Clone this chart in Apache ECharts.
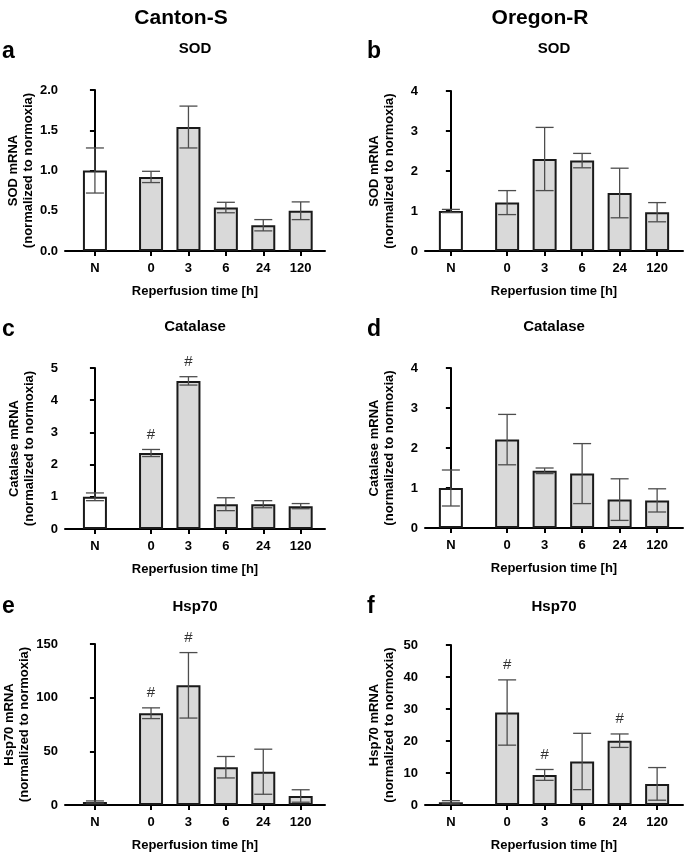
<!DOCTYPE html>
<html><head><meta charset="utf-8">
<script src="https://cdn.jsdelivr.net/npm/echarts@6/dist/echarts.min.js"></script>
<style>html,body{margin:0;padding:0;background:#fff}#c{width:685px;height:853px}</style>
</head><body><div id="c"></div>
<script>
// ---- data ----
const timeLabels = ['N', '0', '3', '6', '24', '120'];
const timePositions = [0, 1.5, 2.5, 3.5, 4.5, 5.5];

const strainTitles = ['Canton-S', 'Oregon-R'];
const panelLetters = ['a', 'b', 'c', 'd', 'e', 'f'];
const geneTitles = ['SOD', 'SOD', 'Catalase', 'Catalase', 'Hsp70', 'Hsp70'];
const yNames = ['SOD mRNA', 'SOD mRNA', 'Catalase mRNA', 'Catalase mRNA', 'Hsp70 mRNA', 'Hsp70 mRNA'];
const xName = 'Reperfusion time [h]';

const sodCantonMean = [1.00, 0.92, 1.54, 0.54, 0.32, 0.50];
const sodCantonErr  = [0.28, 0.07, 0.26, 0.065, 0.07, 0.11];
const sodCantonSig  = [0, 0, 0, 0, 0, 0];

const sodOregonMean = [1.00, 1.21, 2.30, 2.26, 1.45, 0.97];
const sodOregonErr  = [0.04, 0.30, 0.79, 0.18, 0.62, 0.24];
const sodOregonSig  = [0, 0, 0, 0, 0, 0];

const catCantonMean = [1.00, 2.36, 4.60, 0.77, 0.77, 0.71];
const catCantonErr  = [0.12, 0.11, 0.13, 0.20, 0.11, 0.08];
const catCantonSig  = [0, 1, 1, 0, 0, 0];

const catOregonMean = [1.00, 2.21, 1.43, 1.36, 0.71, 0.69];
const catOregonErr  = [0.45, 0.63, 0.07, 0.75, 0.52, 0.29];
const catOregonSig  = [0, 0, 0, 0, 0, 0];

const hspCantonMean = [2.8, 85.5, 111.5, 35.2, 31.0, 8.4];
const hspCantonErr  = [1.0, 5.0, 30.5, 10.0, 21.0, 5.8];
const hspCantonSig  = [0, 1, 1, 0, 0, 0];

const hspOregonMean = [0.85, 28.9, 9.4, 13.6, 20.1, 6.6];
const hspOregonErr  = [0.5, 10.2, 1.7, 8.8, 2.1, 5.1];
const hspOregonSig  = [0, 1, 1, 0, 1, 0];

const yMaxes = [2, 4, 5, 4, 150, 50];
const yIntervals = [0.5, 1, 1, 1, 50, 10];
const yDecimals = [1, 0, 0, 0, 0, 0];

// ---- layout ----
const FONT = "'Liberation Sans', Arial, Helvetica, sans-serif";
const grids = [
  {left: 65, top: 90, width: 260, height: 161},
  {left: 425, top: 91, width: 258, height: 160},
  {left: 65, top: 368, width: 260, height: 161},
  {left: 425, top: 368, width: 258, height: 160},
  {left: 65, top: 644, width: 260, height: 161},
  {left: 425, top: 645, width: 258, height: 160}
];
const xRanges = [[-0.8, 6.15], [-0.69, 6.19]];

const means = [sodCantonMean, sodOregonMean, catCantonMean, catOregonMean, hspCantonMean, hspOregonMean];
const errs = [sodCantonErr, sodOregonErr, catCantonErr, catOregonErr, hspCantonErr, hspOregonErr];
const sigs = [sodCantonSig, sodOregonSig, catCantonSig, catOregonSig, hspCantonSig, hspOregonSig];

const labelOf = {};
timePositions.forEach((p, i) => labelOf[p] = timeLabels[i]);

const xAxis = [], yAxis = [], series = [], graphic = [];
grids.forEach((g, i) => {
  const col = i % 2;
  xAxis.push({
    type: 'value', gridIndex: i, min: xRanges[col][0], max: xRanges[col][1],
    name: xName, nameLocation: 'middle', nameGap: 34,
    nameTextStyle: {fontFamily: FONT, fontWeight: 'bold', fontSize: 13, color: '#000'},
    axisLine: {show: true, onZero: false, lineStyle: {color: '#000', width: 2}},
    axisTick: {show: true, customValues: timePositions, length: 5, lineStyle: {color: '#000', width: 2}},
    axisLabel: {customValues: timePositions, formatter: v => labelOf[v] ?? '', margin: 11,
      fontFamily: FONT, fontWeight: 'bold', fontSize: 13, color: '#000'},
    splitLine: {show: false}
  });
  yAxis.push({
    type: 'value', gridIndex: i, min: 0, max: yMaxes[i], interval: yIntervals[i],
    name: yNames[i] + '\n(normalized to normoxia)', nameLocation: 'middle', nameGap: 28, nameRotate: 90,
    nameTextStyle: {fontFamily: FONT, fontWeight: 'bold', fontSize: 13, lineHeight: 15, color: '#000'},
    axisLine: {show: true, lineStyle: {color: '#000', width: 2}},
    axisTick: {show: true, length: 5, lineStyle: {color: '#000', width: 2}},
    axisLabel: {margin: 7, formatter: v => v.toFixed(yDecimals[i]),
      fontFamily: FONT, fontWeight: 'bold', fontSize: 13, color: '#000'},
    splitLine: {show: false}
  });
  series.push({
    type: 'bar', xAxisIndex: i, yAxisIndex: i, barWidth: 24, z: 2,
    data: means[i].map((m, k) => ({
      value: [timePositions[k], m],
      itemStyle: {color: k === 0 ? '#ffffff' : '#d9d9d9', borderColor: '#1a1a1a', borderWidth: 2}
    }))
  });
  series.push({
    type: 'custom', xAxisIndex: i, yAxisIndex: i, z: 5,
    data: means[i].map((m, k) => [timePositions[k], m, errs[i][k]]),
    renderItem: (params, api) => {
      const x = api.value(0), y = api.value(1), e = api.value(2);
      const hi = api.coord([x, y + e]), lo = api.coord([x, y - e]);
      const w = 9;
      const st = {stroke: '#4d4d4d', lineWidth: 1.3};
      return {type: 'group', children: [
        {type: 'line', shape: {x1: hi[0], y1: hi[1], x2: lo[0], y2: lo[1]}, style: st},
        {type: 'line', shape: {x1: hi[0] - w, y1: hi[1], x2: hi[0] + w, y2: hi[1]}, style: st},
        {type: 'line', shape: {x1: lo[0] - w, y1: lo[1], x2: lo[0] + w, y2: lo[1]}, style: st}
      ]};
    }
  });
  const sigData = [];
  sigs[i].forEach((s, k) => { if (s) sigData.push([timePositions[k], means[i][k] + errs[i][k]]); });
  series.push({
    type: 'custom', xAxisIndex: i, yAxisIndex: i, z: 6,
    data: sigData,
    renderItem: (params, api) => {
      const p = api.coord([api.value(0), api.value(1)]);
      return {type: 'text', x: p[0], y: p[1] - 15,
        style: {text: '#', fill: '#333', font: '15px ' + FONT, align: 'center', verticalAlign: 'middle',
          textAlign: 'center', textVerticalAlign: 'middle'}};
    }
  });
  const rowTopY = [52, 330, 607][Math.floor(i / 2)];
  const subY = [49, 327, 607][Math.floor(i / 2)];
  graphic.push({type: 'text', x: col === 0 ? 2 : 367, y: rowTopY,
    style: {text: panelLetters[i], fill: '#000', font: 'bold 23px ' + FONT, align: 'left', verticalAlign: 'middle',
      textAlign: 'left', textVerticalAlign: 'middle'}});
  graphic.push({type: 'text', x: g.left + g.width / 2, y: subY,
    style: {text: geneTitles[i], fill: '#000', font: 'bold 15px ' + FONT, align: 'center', verticalAlign: 'middle',
      textAlign: 'center', textVerticalAlign: 'middle'}});
});
strainTitles.forEach((t, c) => {
  graphic.push({type: 'text', x: c === 0 ? 181 : 540, y: 18,
    style: {text: t, fill: '#000', font: 'bold 21px ' + FONT, align: 'center', verticalAlign: 'middle',
      textAlign: 'center', textVerticalAlign: 'middle'}});
});

const chart = echarts.init(document.getElementById('c'), null, {renderer: 'canvas'});
chart.setOption({
  animation: false,
  backgroundColor: '#fff',
  grid: grids,
  xAxis, yAxis, series, graphic
});
</script></body></html>
